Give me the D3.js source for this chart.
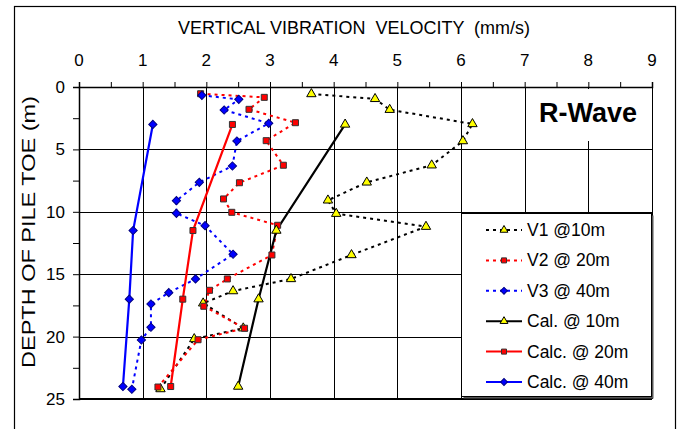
<!DOCTYPE html>
<html><head><meta charset="utf-8">
<script src="https://cdn.jsdelivr.net/npm/d3@7"></script>
<style>body{margin:0;background:#fff}svg{display:block}text{font-family:"Liberation Sans",Arial,sans-serif}</style>
</head><body><svg id="c" width="680" height="429"></svg>
<script>
const xTicks = [0,1,2,3,4,5,6,7,8,9];
const yTicks = [0,5,10,15,20,25];
const titleText = "VERTICAL VIBRATION  VELOCITY  (mm/s)";
const yLabelText = "DEPTH OF PILE TOE (m)";
const legendLabels = ["V1 @10m","V2 @ 20m","V3 @ 40m","Cal. @ 10m","Calc. @ 20m","Calc. @ 40m"];

const v1Vel = [3.65,4.65,4.88,6.18,6.03,5.54,4.52,3.91,4.04,5.45,4.28,3.33,2.42,1.95,2.58,1.81,1.28];
const v1Depth = [0.56,0.95,1.82,2.96,4.33,6.27,7.64,9.08,10.15,11.19,13.46,15.38,16.35,17.33,19.33,20.19,24.2];
const v2Vel = [1.91,2.91,2.67,3.40,2.94,3.21,2.52,2.27,2.40,3.12,3.03,2.33,2.05,1.96,2.60,1.87,1.24];
const v2Depth = [0.54,0.83,1.79,2.86,4.30,6.27,7.67,8.97,10.04,11.08,13.46,15.38,16.29,17.57,19.33,20.25,24.04];
const v3Vel = [1.93,2.51,2.28,2.98,2.48,2.41,1.89,1.53,1.53,1.98,2.42,1.83,1.41,1.13,1.13,0.98,0.83];
const v3Depth = [0.67,0.99,1.84,2.91,4.33,6.33,7.64,9.11,10.12,11.11,13.4,15.38,16.48,17.39,19.25,20.27,24.22];
const calcDepth = [3,11.5,17,24];
const calc10 = [4.18,3.10,2.82,2.50];
const calc20 = [2.41,1.79,1.63,1.44];
const calc40 = [1.16,0.85,0.79,0.69];

const svg = d3.select("#c");
const x = d3.scaleLinear().domain([0,9]).range([79,652]);
const y = d3.scaleLinear().domain([0,25]).range([87,399]);

// outer frame
svg.append("rect").attr("x",14.5).attr("y",6.5).attr("width",661).attr("height",440)
  .attr("fill","#fff").attr("stroke","#000").attr("stroke-width",1.2);

// grid
const g = svg.append("g");
g.selectAll("line.vg").data(d3.range(1,10)).join("line")
  .attr("x1",d=>Math.round(x(d))+0.5).attr("x2",d=>Math.round(x(d))+0.5)
  .attr("y1",y(0)).attr("y2",y(25)).attr("stroke","#000").attr("stroke-width",1);
g.selectAll("line.hg").data([5,10,15,20]).join("line")
  .attr("y1",d=>Math.round(y(d))+0.5).attr("y2",d=>Math.round(y(d))+0.5)
  .attr("x1",x(0)).attr("x2",x(9)).attr("stroke","#000").attr("stroke-width",1);

// axes
const xAxis = d3.axisTop(x).tickValues(d3.range(0,9.01,0.5)).tickSize(5).tickFormat("");
const ga = svg.append("g").attr("transform",`translate(0,${y(0)})`).call(xAxis);
ga.select(".domain").attr("stroke-width",1.5);
ga.selectAll(".tick line").attr("stroke-width",1);
const yAxis = d3.axisLeft(y).tickValues(d3.range(0,25.01,2.5)).tickSize(6).tickFormat("");
const gy = svg.append("g").attr("transform",`translate(${x(0)},0)`).call(yAxis);
gy.select(".domain").attr("stroke-width",1.5);
svg.append("line").attr("x1",x(0)).attr("x2",x(9)).attr("y1",y(25)).attr("y2",y(25))
  .attr("stroke","#000").attr("stroke-width",2);

svg.selectAll("text.xt").data(xTicks).join("text").attr("class","xt")
  .attr("x",d=>x(d)).attr("y",66).attr("text-anchor","middle")
  .attr("font-size",17).text(d=>d);
svg.selectAll("text.yt").data(yTicks).join("text").attr("class","yt")
  .attr("x",65).attr("y",d=>y(d)+6).attr("text-anchor","end")
  .attr("font-size",17).text(d=>d);

svg.append("text").attr("x",354).attr("y",34).attr("text-anchor","middle")
  .attr("font-size",19).attr("textLength",352).attr("lengthAdjust","spacingAndGlyphs")
  .style("white-space","pre").text(titleText);
svg.append("text").attr("transform","translate(35,232) rotate(-90)").attr("text-anchor","middle")
  .attr("font-size",19).attr("textLength",272).attr("lengthAdjust","spacingAndGlyphs")
  .style("white-space","pre").text(yLabelText);

// R-Wave label
svg.append("rect").attr("x",537).attr("y",89).attr("width",104).attr("height",52).attr("fill","#fff");
svg.append("text").attr("x",588).attr("y",122).attr("text-anchor","middle")
  .attr("font-size",27).attr("font-weight","bold").text("R-Wave");

const line = d3.line().x(d=>x(d[0])).y(d=>y(d[1]));

const series = [
  {vel:v1Vel, dep:v1Depth, color:"#000", dash:"3,4", w:2, mk:"tri"},
  {vel:v2Vel, dep:v2Depth, color:"#ff0000", dash:"3,4", w:2, mk:"sq"},
  {vel:v3Vel, dep:v3Depth, color:"#0000ff", dash:"3,4", w:2, mk:"dia"},
  {vel:calc10, dep:calcDepth, color:"#000", dash:null, w:2.2, mk:"tri"},
  {vel:calc20, dep:calcDepth, color:"#ff0000", dash:null, w:2.2, mk:"sq"},
  {vel:calc40, dep:calcDepth, color:"#0000ff", dash:null, w:2.2, mk:"dia"}
];
function marker(sel, mk, scale){
  if(mk==="tri") sel.append("path").attr("d",d3.symbol().type(d3.symbolTriangle).size(38*scale)())
    .attr("fill","#ffff00").attr("stroke","#000").attr("stroke-width",1);
  else if(mk==="sq") sel.append("path").attr("d",d3.symbol().type(d3.symbolSquare).size(36*scale)())
    .attr("fill","#ff0000").attr("stroke","#333").attr("stroke-width",1);
  else sel.append("path").attr("d",d3.symbol().type(d3.symbolSquare).size(34*scale)())
    .attr("transform","rotate(45)").attr("fill","#0000ff").attr("stroke","#000080").attr("stroke-width",1);
}
series.forEach(s=>{
  const pts = s.vel.map((v,i)=>[v,s.dep[i]]);
  svg.append("path").attr("d",line(pts)).attr("fill","none").attr("stroke",s.color)
    .attr("stroke-width",s.w).attr("stroke-dasharray",s.dash);
});
series.forEach(s=>{
  const pts = s.vel.map((v,i)=>[v,s.dep[i]]);
  svg.append("g").selectAll("g").data(pts).join("g")
    .attr("transform",d=>`translate(${x(d[0])},${y(d[1])})`)
    .each(function(){ marker(d3.select(this), s.mk, 1); });
});

// legend
const lg = svg.append("g");
lg.append("rect").attr("x",463.5).attr("y",215.5).attr("width",190).attr("height",183).attr("fill","#555");
lg.append("rect").attr("x",461.5).attr("y",213.5).attr("width",190).attr("height",183)
  .attr("fill","#fff").attr("stroke","#000").attr("stroke-width",1);
const ly = d3.scaleLinear().domain([0,5]).range([230,382]);
legendLabels.forEach((lab,i)=>{
  const s = series[i], yy = ly(i);
  lg.append("line").attr("x1",486).attr("x2",522).attr("y1",yy).attr("y2",yy)
    .attr("stroke",s.color).attr("stroke-width",2).attr("stroke-dasharray",s.dash);
  const m = lg.append("g").attr("transform",`translate(504,${yy})`);
  marker(m, s.mk, 0.7);
  lg.append("text").attr("x",527).attr("y",yy+6).attr("font-size",17.5).text(lab);
});
</script></body></html>
